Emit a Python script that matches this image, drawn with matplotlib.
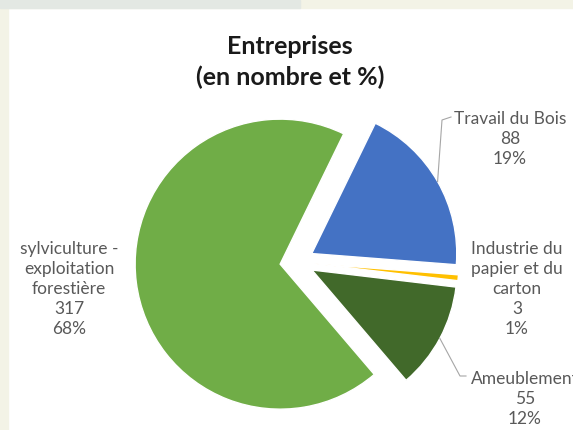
import numpy as np
import matplotlib.pyplot as plt
from matplotlib.patches import Rectangle

W, H = 573, 430

# data
categories = ["Travail du Bois", "Industrie du\npapier et du\ncarton", "Ameublement",
              "sylviculture -\nexploitation\nforestière"]
counts = [88, 3, 55, 317]
percents = ["19%", "1%", "12%", "68%"]
colors = ["#4472C4", "#FFC000", "#41692A", "#70AD47"]

# label centres (pixels, y from top)
label_pos = [(510, 139), (517, 289), (525, 399), (69, 289)]

plt.rcParams["font.family"] = ["Lato", "DejaVu Sans"]

fig = plt.figure(figsize=(W / 100, H / 100), dpi=100)
fig.patch.set_facecolor("white")
ax = fig.add_axes([0, 0, 1, 1])

# screenshot borders
ax.add_patch(Rectangle((0, 0), 8, H, color="#F3F3E6", zorder=0))
ax.add_patch(Rectangle((0, H - 8), W, 8, color="#F3F3E6", zorder=0))
ax.add_patch(Rectangle((0, H - 8), 300, 8, color="#E3E8E3", zorder=0))

cx, cy, R, ex = 297, H - 262, 145, 17
wedges, _ = ax.pie(counts, colors=colors, startangle=64, counterclock=False,
                   center=(cx, cy), radius=R, explode=[ex] * len(counts),
                   wedgeprops=dict(edgecolor="white", linewidth=1),
                   frame=True)
ax.set_xlim(0, W)
ax.set_ylim(0, H)
ax.set_aspect("equal")
ax.axis("off")

ax.text(290, H - 62, "Entreprises\n(en nombre et %)", ha="center", va="center",
        fontsize=18, fontweight="bold", color="#1a1a1a", linespacing=1.35)

for i, w in enumerate(wedges):
    lx, ly = label_pos[i]
    txt = f"{categories[i]}\n{counts[i]}\n{percents[i]}"
    ax.text(lx, H - ly, txt, ha="center", va="center", fontsize=12.5,
            color="#595959", linespacing=1.3)

# leader lines from arc mid-point to labels
def arc_mid(w):
    t = np.deg2rad((w.theta1 + w.theta2) / 2)
    x0, y0 = w.center
    return x0 + w.r * np.cos(t), y0 + w.r * np.sin(t)

p = arc_mid(wedges[0])
ax.plot([p[0], 442, 451], [p[1], H - 120, H - 117], color="#A6A6A6", lw=0.8)
p = arc_mid(wedges[2])
ax.plot([p[0], 460, 466], [p[1], H - 376, H - 376], color="#A6A6A6", lw=0.8)

fig.savefig("out.png", dpi=100)
